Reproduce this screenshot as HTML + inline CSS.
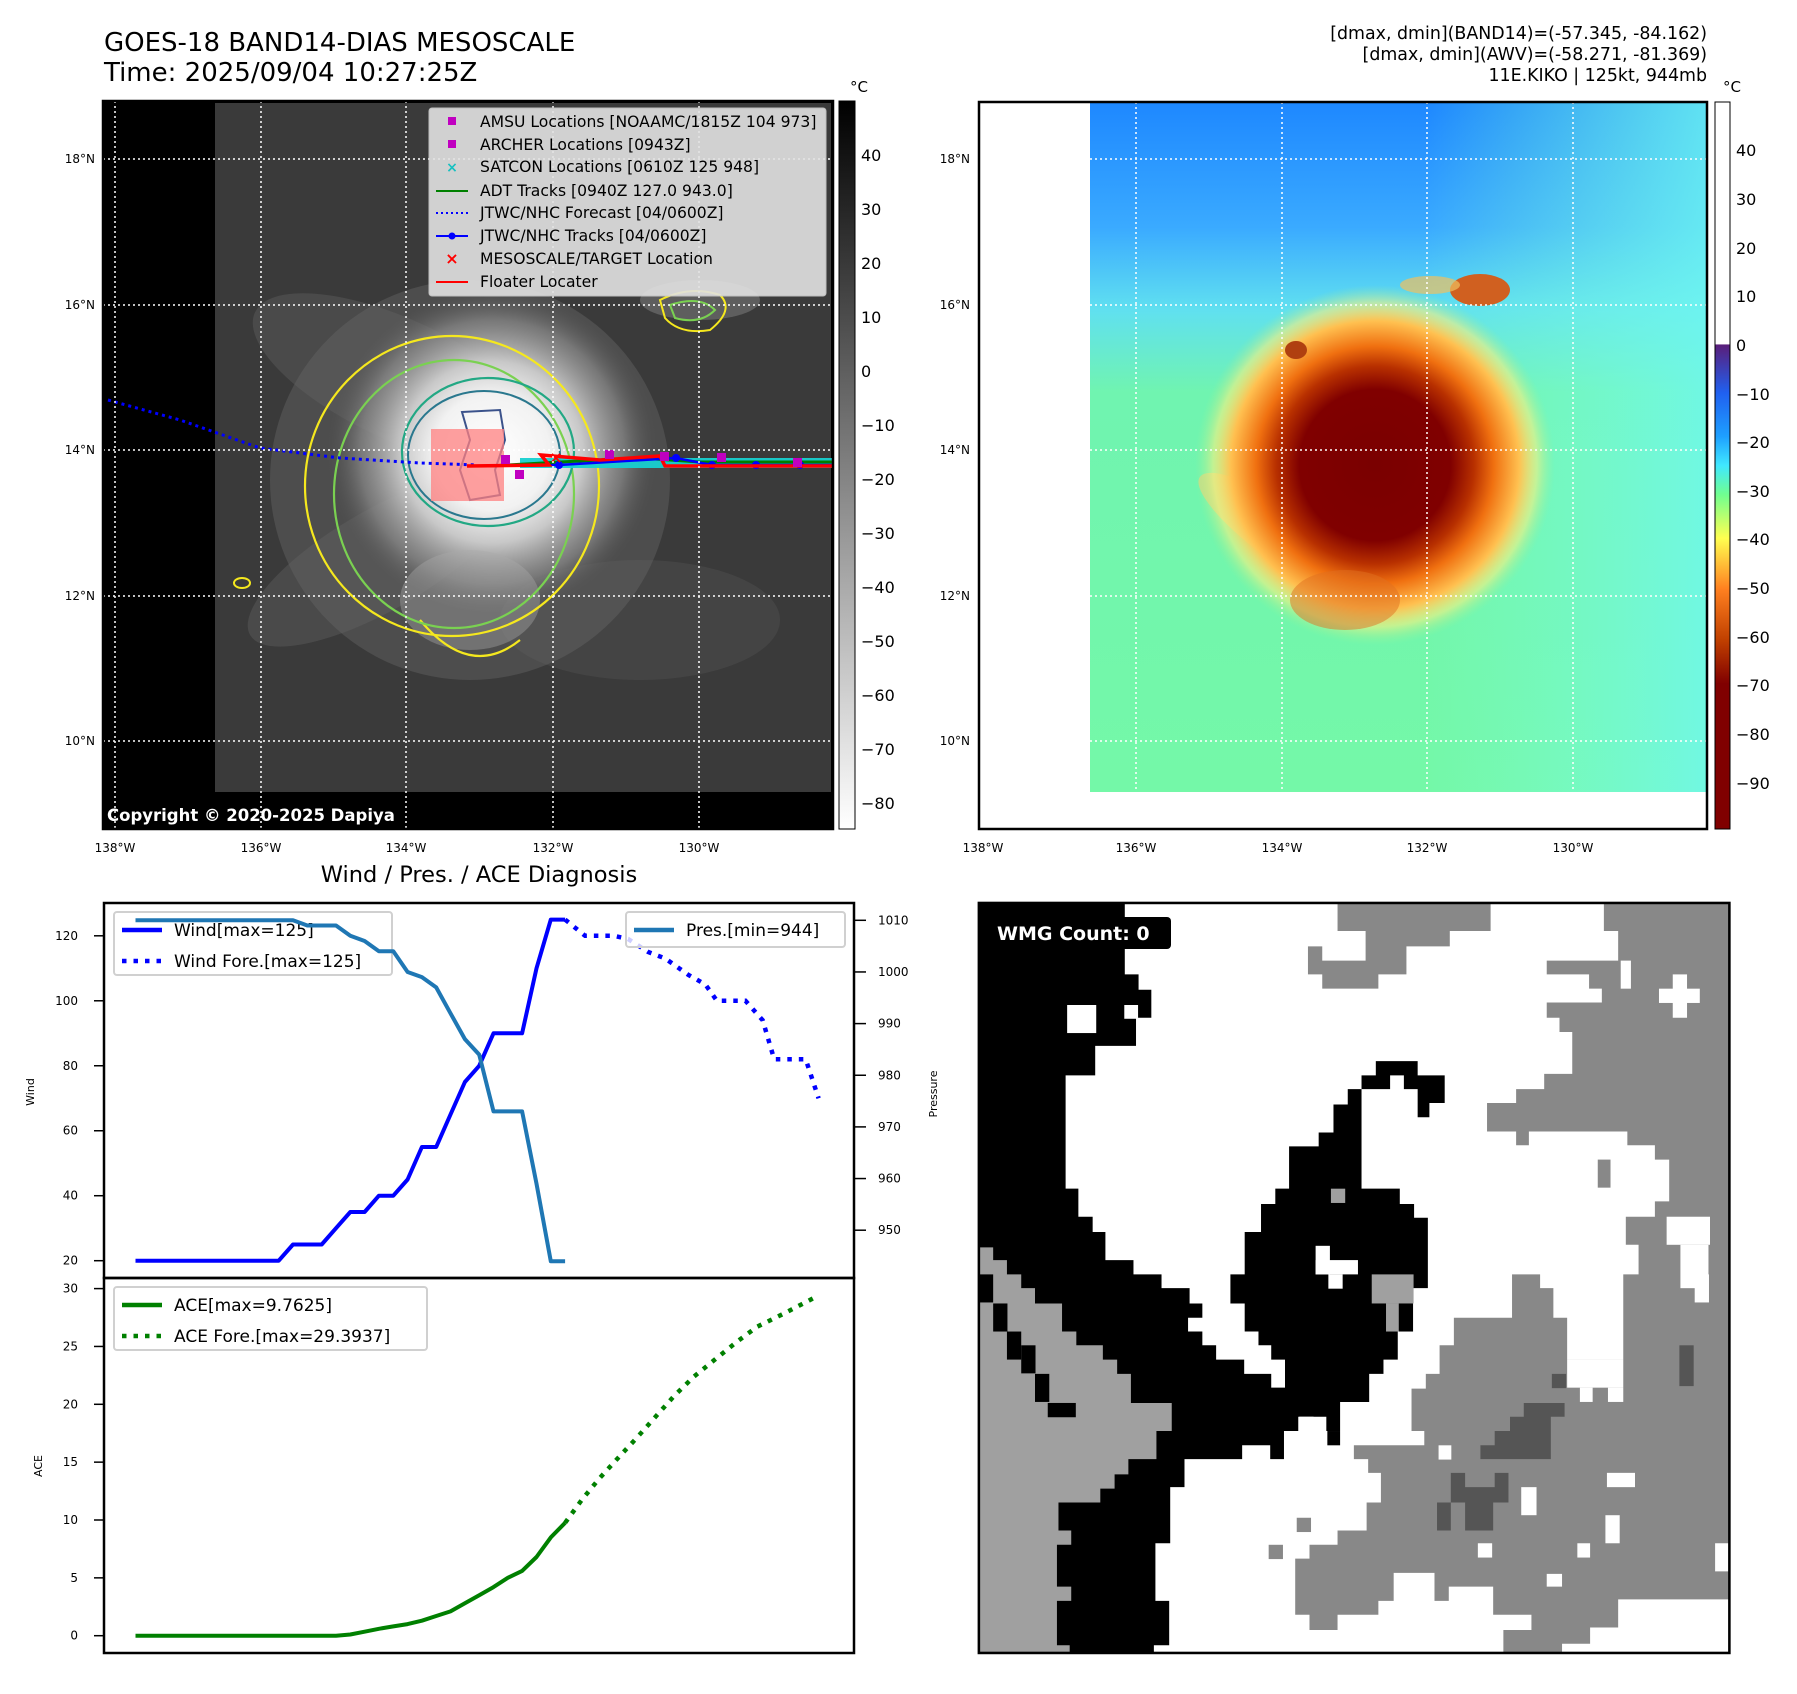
<!DOCTYPE html>
<html><head><meta charset="utf-8">
<style>
html,body{margin:0;padding:0;background:#fff;}
body{width:1797px;height:1690px;position:relative;overflow:hidden;font-family:"DejaVu Sans","Liberation Sans",sans-serif;}
svg text{font-family:"DejaVu Sans","Liberation Sans",sans-serif;}
</style></head>
<body>
<svg id="root" width="1797" height="1690" viewBox="0 0 1797 1690" xmlns="http://www.w3.org/2000/svg">
<defs>
  <radialGradient id="cloudGlow" cx="0.5" cy="0.5" r="0.5">
    <stop offset="0" stop-color="#ffffff"/>
    <stop offset="0.35" stop-color="#f2f2f2"/>
    <stop offset="0.55" stop-color="#c8c8c8"/>
    <stop offset="0.8" stop-color="#8a8a8a" stop-opacity="0.7"/>
    <stop offset="1" stop-color="#555" stop-opacity="0"/>
  </radialGradient>
  <linearGradient id="grayBar" x1="0" y1="0" x2="0" y2="1">
    <stop offset="0" stop-color="#000"/><stop offset="1" stop-color="#fff"/>
  </linearGradient>
  <linearGradient id="awvBg" x1="0" y1="0" x2="0" y2="1">
    <stop offset="0" stop-color="#1e88ff"/>
    <stop offset="0.18" stop-color="#3aaaff"/>
    <stop offset="0.3" stop-color="#60e0f0"/>
    <stop offset="0.42" stop-color="#70f4b0"/>
    <stop offset="1" stop-color="#74f8a8"/>
  </linearGradient>
  <linearGradient id="awvRight" x1="0" y1="0" x2="1" y2="0">
    <stop offset="0" stop-color="#80ffd0" stop-opacity="0"/>
    <stop offset="0.55" stop-color="#80ffd0" stop-opacity="0"/>
    <stop offset="1" stop-color="#70f8f0" stop-opacity="0.8"/>
  </linearGradient>
  <radialGradient id="stormAwv" cx="0.5" cy="0.5" r="0.5">
    <stop offset="0" stop-color="#7a0000"/>
    <stop offset="0.42" stop-color="#800000"/>
    <stop offset="0.55" stop-color="#b83000"/>
    <stop offset="0.66" stop-color="#f07010"/>
    <stop offset="0.8" stop-color="#ffc050"/>
    <stop offset="0.9" stop-color="#f8f080" stop-opacity="0.6"/>
    <stop offset="1" stop-color="#a0f090" stop-opacity="0"/>
  </radialGradient>
  <linearGradient id="awvBar" x1="0" y1="0" x2="0" y2="1">
    <stop offset="0" stop-color="#ffffff"/>
    <stop offset="0.333" stop-color="#ffffff"/>
    <stop offset="0.334" stop-color="#5a1e7a"/>
    <stop offset="0.4" stop-color="#2060f0"/>
    <stop offset="0.46" stop-color="#1ea0ff"/>
    <stop offset="0.5" stop-color="#40e8ff"/>
    <stop offset="0.54" stop-color="#70ff90"/>
    <stop offset="0.6" stop-color="#ffff50"/>
    <stop offset="0.67" stop-color="#ff8020"/>
    <stop offset="0.74" stop-color="#c04000"/>
    <stop offset="0.8" stop-color="#800000"/>
    <stop offset="1" stop-color="#800000"/>
  </linearGradient>
</defs>

<text x="104" y="51" font-size="26" fill="#000">GOES-18 BAND14-DIAS MESOSCALE</text>
<text x="104" y="81" font-size="26" fill="#000">Time: 2025/09/04 10:27:25Z</text>
<text x="1707" y="39" font-size="17.4" text-anchor="end">[dmax, dmin](BAND14)=(-57.345, -84.162)</text>
<text x="1707" y="60" font-size="17.4" text-anchor="end">[dmax, dmin](AWV)=(-58.271, -81.369)</text>
<text x="1707" y="81" font-size="17.4" text-anchor="end">11E.KIKO | 125kt, 944mb</text>

<g>
  <rect x="103" y="101" width="730" height="728" fill="#000"/>
  <rect x="215" y="103" width="616" height="689" fill="#3a3a3a"/>
  <ellipse cx="400" cy="380" rx="160" ry="60" fill="#6a6a6a" opacity="0.35" transform="rotate(25 400 380)"/>
  <ellipse cx="380" cy="560" rx="150" ry="50" fill="#6a6a6a" opacity="0.35" transform="rotate(-30 380 560)"/>
  <ellipse cx="640" cy="620" rx="140" ry="60" fill="#555" opacity="0.4"/>
  <ellipse cx="470" cy="480" rx="200" ry="200" fill="#666" opacity="0.45"/>
  <ellipse cx="492" cy="452" rx="165" ry="165" fill="url(#cloudGlow)"/>
  <ellipse cx="700" cy="300" rx="60" ry="20" fill="#777" opacity="0.6"/>
  <ellipse cx="470" cy="600" rx="70" ry="50" fill="#aaa" opacity="0.4"/>
  <ellipse cx="452" cy="486" rx="147" ry="150" fill="none" stroke="#f5e81e" stroke-width="2.2"/>
  <path d="M420,620 Q470,680 520,640" fill="none" stroke="#f5e81e" stroke-width="2.2"/>
  <ellipse cx="454" cy="494" rx="120" ry="134" fill="none" stroke="#7ad151" stroke-width="2.2"/>
  <ellipse cx="488" cy="452" rx="86" ry="74" fill="none" stroke="#22a884" stroke-width="2.2"/>
  <ellipse cx="484" cy="455" rx="76" ry="64" fill="none" stroke="#2a788e" stroke-width="2"/>
  <path d="M462,412 L500,410 L505,440 L495,470 L500,495 L470,500 L460,470 L470,440 Z" fill="none" stroke="#3b528b" stroke-width="2"/>
  <path d="M660,300 Q690,285 720,295 Q735,310 710,330 Q680,335 665,318 Z" fill="none" stroke="#f5e81e" stroke-width="2"/>
  <path d="M670,305 Q700,295 715,310 Q700,325 675,318 Z" fill="none" stroke="#7ad151" stroke-width="2"/>
  <ellipse cx="242" cy="583" rx="8" ry="5" fill="none" stroke="#f5e81e" stroke-width="2"/>
  <rect x="431" y="429" width="73" height="72" fill="#ff8080" opacity="0.75"/>
  <polyline points="108,400 180,420 260,448 340,458 420,463 476,465" fill="none" stroke="#0000ff" stroke-width="3" stroke-dasharray="3,4"/>
  <rect x="520" y="458" width="313" height="10" fill="#17d0d0" opacity="0.95"/>
  <polyline points="490,466 560,462 640,458 700,462 760,462 833,462" fill="none" stroke="#008000" stroke-width="3"/>
  <polyline points="476,466 559,465 676,458 712,465 756,465 800,465 833,465" fill="none" stroke="#0000ff" stroke-width="2.5"/>
  <g fill="#0000ff"><circle cx="559" cy="465" r="4"/><circle cx="676" cy="458" r="4"/><circle cx="712" cy="465" r="4"/><circle cx="756" cy="465" r="4"/><circle cx="800" cy="465" r="4"/></g>
  <polyline points="467,466 549,465 541,455 600,460 660,456 665,466 833,466" fill="none" stroke="#ff0000" stroke-width="3.5"/>
  <g fill="#c000c0"><rect x="501" y="455" width="9" height="9"/><rect x="515" y="470" width="9" height="9"/><rect x="605" y="450" width="9" height="9"/><rect x="660" y="452" width="9" height="9"/><rect x="717" y="453" width="9" height="9"/><rect x="793" y="458" width="9" height="9"/></g>
  <text x="556" y="463" font-size="16" font-weight="bold" fill="#ff0000" text-anchor="middle">×</text>
  <g stroke="#fff" stroke-width="1.5" stroke-dasharray="2,3">
    <line x1="115" y1="101" x2="115" y2="829"/><line x1="261" y1="101" x2="261" y2="829"/><line x1="406" y1="101" x2="406" y2="829"/><line x1="553" y1="101" x2="553" y2="829"/><line x1="699" y1="101" x2="699" y2="829"/>
    <line x1="103" y1="159" x2="833" y2="159"/><line x1="103" y1="305" x2="833" y2="305"/><line x1="103" y1="450" x2="833" y2="450"/><line x1="103" y1="596" x2="833" y2="596"/><line x1="103" y1="741" x2="833" y2="741"/>
  </g>
  <g>
    <rect x="429" y="108" width="397" height="188" fill="#e2e2e2" opacity="0.9" stroke="#ccc" rx="3"/>
    <g font-size="15.6" fill="#000">
      <rect x="448" y="117" width="8" height="8" fill="#c000c0"/><text x="480" y="127">AMSU Locations [NOAAMC/1815Z 104 973]</text>
      <rect x="448" y="140" width="8" height="8" fill="#c000c0"/><text x="480" y="150">ARCHER Locations [0943Z]</text>
      <text x="452" y="172" fill="#17c0c0" font-size="14" text-anchor="middle" font-weight="bold">×</text><text x="480" y="172">SATCON Locations [0610Z 125 948]</text>
      <line x1="436" y1="191" x2="468" y2="191" stroke="#008000" stroke-width="2"/><text x="480" y="196">ADT Tracks [0940Z 127.0 943.0]</text>
      <line x1="436" y1="213" x2="468" y2="213" stroke="#0000ff" stroke-width="2" stroke-dasharray="2,3"/><text x="480" y="218">JTWC/NHC Forecast [04/0600Z]</text>
      <line x1="436" y1="236" x2="468" y2="236" stroke="#0000ff" stroke-width="2"/><circle cx="452" cy="236" r="3.5" fill="#0000ff"/><text x="480" y="241">JTWC/NHC Tracks [04/0600Z]</text>
      <text x="452" y="264" fill="#ff0000" font-size="16" text-anchor="middle" font-weight="bold">×</text><text x="480" y="264">MESOSCALE/TARGET Location</text>
      <line x1="436" y1="282" x2="468" y2="282" stroke="#ff0000" stroke-width="2"/><text x="480" y="287">Floater Locater</text>
    </g>
  </g>
  <text x="107" y="821" font-size="16.5" font-weight="bold" fill="#fff">Copyright © 2020-2025 Dapiya</text>
  <rect x="103" y="101" width="730" height="728" fill="none" stroke="#000" stroke-width="2.5"/>
</g>
<g font-size="12" fill="#000">
  <text x="95" y="163" text-anchor="end">18°N</text><text x="95" y="309" text-anchor="end">16°N</text><text x="95" y="454" text-anchor="end">14°N</text><text x="95" y="600" text-anchor="end">12°N</text><text x="95" y="745" text-anchor="end">10°N</text>
  <text x="115" y="852" text-anchor="middle">138°W</text><text x="261" y="852" text-anchor="middle">136°W</text><text x="406" y="852" text-anchor="middle">134°W</text><text x="553" y="852" text-anchor="middle">132°W</text><text x="699" y="852" text-anchor="middle">130°W</text>
</g>
<g>
  <rect x="839" y="101" width="16" height="728" fill="url(#grayBar)" stroke="#000" stroke-width="1"/>
  <text x="850" y="92" font-size="15">°C</text>
  <g font-size="16" fill="#000">
    <text x="861" y="161">40</text><text x="861" y="215">30</text><text x="861" y="269">20</text><text x="861" y="323">10</text><text x="861" y="377">0</text>
    <text x="861" y="431">−10</text><text x="861" y="485">−20</text><text x="861" y="539">−30</text><text x="861" y="593">−40</text><text x="861" y="647">−50</text><text x="861" y="701">−60</text><text x="861" y="755">−70</text><text x="861" y="809">−80</text>
  </g>
</g>

<g>
  <rect x="979" y="102" width="728" height="727" fill="#fff"/>
  <rect x="1090" y="103" width="616" height="689" fill="url(#awvBg)"/>
  <rect x="1090" y="103" width="616" height="689" fill="url(#awvRight)"/>
  <ellipse cx="1290" cy="540" rx="110" ry="28" fill="#f8d070" opacity="0.6" transform="rotate(35 1290 540)"/>
  <ellipse cx="1375" cy="465" rx="180" ry="180" fill="url(#stormAwv)"/>
  <ellipse cx="1345" cy="600" rx="55" ry="30" fill="#e07020" opacity="0.5"/>
  <ellipse cx="1480" cy="290" rx="30" ry="16" fill="#d06020"/>
  <ellipse cx="1430" cy="285" rx="30" ry="9" fill="#f0c060" opacity="0.7"/>
  <ellipse cx="1296" cy="350" rx="11" ry="9" fill="#b04010"/>
  <g stroke="#fff" stroke-width="1.5" stroke-dasharray="2,3">
    <line x1="1136" y1="102" x2="1136" y2="829"/><line x1="1282" y1="102" x2="1282" y2="829"/><line x1="1427" y1="102" x2="1427" y2="829"/><line x1="1573" y1="102" x2="1573" y2="829"/>
    <line x1="1090" y1="159" x2="1707" y2="159"/><line x1="1090" y1="305" x2="1707" y2="305"/><line x1="1090" y1="450" x2="1707" y2="450"/><line x1="1090" y1="596" x2="1707" y2="596"/><line x1="1090" y1="741" x2="1707" y2="741"/>
  </g>
  <rect x="979" y="102" width="728" height="727" fill="none" stroke="#000" stroke-width="2.5"/>
</g>
<g font-size="12" fill="#000">
  <text x="970" y="163" text-anchor="end">18°N</text><text x="970" y="309" text-anchor="end">16°N</text><text x="970" y="454" text-anchor="end">14°N</text><text x="970" y="600" text-anchor="end">12°N</text><text x="970" y="745" text-anchor="end">10°N</text>
  <text x="983" y="852" text-anchor="middle">138°W</text><text x="1136" y="852" text-anchor="middle">136°W</text><text x="1282" y="852" text-anchor="middle">134°W</text><text x="1427" y="852" text-anchor="middle">132°W</text><text x="1573" y="852" text-anchor="middle">130°W</text>
</g>
<g>
  <rect x="1715" y="102" width="15" height="727" fill="url(#awvBar)" stroke="#000" stroke-width="1"/>
  <text x="1723" y="92" font-size="15">°C</text>
  <g font-size="16" fill="#000">
    <text x="1736" y="156">40</text><text x="1736" y="205">30</text><text x="1736" y="254">20</text><text x="1736" y="302">10</text><text x="1736" y="351">0</text>
    <text x="1736" y="400">−10</text><text x="1736" y="448">−20</text><text x="1736" y="497">−30</text><text x="1736" y="545">−40</text><text x="1736" y="594">−50</text><text x="1736" y="643">−60</text><text x="1736" y="691">−70</text><text x="1736" y="740">−80</text><text x="1736" y="789">−90</text>
  </g>
</g>

<svg x="960" y="880" width="800" height="800" viewBox="0 0 1568 1568" preserveAspectRatio="none">
  <rect x="37" y="45" width="1471" height="1470" fill="#fff"/>
  <polygon fill="#000" points="37,45 323,45 323,185 350,185 350,215 375,215 375,270 345,270 345,325 265,325 265,383 207,383 207,605 232,605 232,660 260,660 260,690 285,690 285,745 340,745 340,773 395,773 395,800 450,800 450,830 475,830 475,858 447,858 447,885 475,885 475,912 502,912 502,940 557,940 557,968 610,968 610,995 637,995 637,940 610,940 610,912 585,912 585,885 558,885 558,830 530,830 530,773 558,773 558,690 590,690 590,635 618,635 618,605 645,605 645,522 703,522 703,495 732,495 732,440 760,440 760,410 787,410 787,383 815,383 815,355 897,355 897,383 950,383 950,437 920,437 920,465 897,465 897,410 870,410 870,383 843,383 843,410 787,410 787,605 862,605 862,635 890,635 890,662 917,662 917,800 887,800 887,885 858,885 858,940 830,940 830,968 802,968 802,1023 745,1023 745,1080 718,1080 718,1052 663,1052 663,1080 635,1080 635,1135 608,1135 608,1108 553,1108 553,1135 440,1135 440,1190 412,1190 412,1300 383,1300 383,1413 410,1413 410,1500 380,1500 380,1515 37,1515"/>
  <polygon fill="#a0a0a0" points="37,720 65,720 65,745 92,745 92,773 120,773 120,800 147,800 147,830 200,830 200,885 228,885 228,912 280,912 280,940 308,940 308,968 335,968 335,1025 415,1025 415,1080 385,1080 385,1135 330,1135 330,1165 303,1165 303,1193 275,1193 275,1220 193,1220 193,1275 218,1275 218,1303 190,1303 190,1385 218,1385 218,1413 190,1413 190,1500 215,1500 215,1515 37,1515"/>
  <g fill="#000"><rect x="37" y="773" width="28" height="55"/><rect x="65" y="830" width="28" height="55"/><rect x="92" y="885" width="28" height="55"/><rect x="120" y="912" width="28" height="55"/><rect x="147" y="968" width="28" height="55"/><rect x="172" y="1025" width="55" height="28"/><rect x="860" y="830" width="28" height="55"/><rect x="720" y="1080" width="25" height="28"/></g>
  <g fill="#fff"><rect x="210" y="245" width="57" height="55"/><rect x="322" y="245" width="27" height="27"/><rect x="697" y="717" width="28" height="56"/><rect x="697" y="745" width="83" height="28"/><rect x="722" y="773" width="28" height="28"/><rect x="665" y="1052" width="28" height="28"/></g>
  <g fill="#a0a0a0"><rect x="807" y="773" width="82" height="57"/><rect x="835" y="830" width="25" height="55"/><rect x="727" y="605" width="28" height="28"/></g>
  <g fill="#888888">
    <polygon points="740,45 1040,45 1040,100 960,100 960,130 875,130 875,185 820,185 820,213 710,213 710,185 682,185 682,130 710,130 710,158 795,158 795,100 740,100"/>
    <polygon points="1262,45 1508,45 1508,1300 1480,1300 1480,1355 1508,1355 1508,1410 1290,1410 1290,1465 1235,1465 1235,1497 1180,1497 1180,1515 1065,1515 1065,1470 1120,1470 1120,1440 1045,1440 1045,1385 958,1385 958,1413 930,1413 930,1358 850,1358 850,1413 820,1413 820,1440 740,1440 740,1470 685,1470 685,1440 657,1440 657,1330 685,1330 685,1303 740,1303 740,1275 797,1275 797,1220 825,1220 825,1162 800,1162 800,1135 772,1135 772,1108 910,1108 910,1080 885,1080 885,997 913,997 913,968 940,968 940,912 968,912 968,858 1082,858 1082,773 1137,773 1137,800 1163,800 1163,858 1190,858 1190,940 1300,940 1300,773 1330,773 1330,715 1305,715 1305,660 1362,660 1362,630 1390,630 1390,548 1362,548 1362,520 1308,520 1308,493 1115,493 1115,520 1090,520 1090,493 1033,493 1033,437 1090,437 1090,410 1145,410 1145,380 1200,380 1200,298 1175,298 1175,270 1150,270 1150,240 1258,240 1258,213 1233,213 1233,185 1150,185 1150,158 1290,158 1290,100 1262,100"/>
    <rect x="1250" y="548" width="25" height="55"/><rect x="660" y="1250" width="28" height="28"/><rect x="605" y="1303" width="28" height="28"/>
  </g>
  <g fill="#fff">
    <rect x="1295" y="158" width="20" height="55"/><rect x="1370" y="213" width="80" height="28"/><rect x="1397" y="185" width="28" height="85"/>
    <rect x="1385" y="660" width="85" height="55"/><rect x="1412" y="715" width="55" height="85"/><rect x="1440" y="773" width="28" height="55"/>
    <rect x="1190" y="940" width="110" height="55"/><rect x="1215" y="995" width="25" height="28"/><rect x="1270" y="995" width="30" height="28"/>
    <rect x="1268" y="1162" width="55" height="28"/><rect x="1100" y="1190" width="30" height="55"/><rect x="1015" y="1300" width="28" height="28"/><rect x="1210" y="1300" width="25" height="28"/><rect x="1150" y="1360" width="30" height="25"/><rect x="938" y="1108" width="25" height="28"/><rect x="1265" y="1245" width="28" height="55"/>
  </g>
  <g fill="#555555">
    <polygon points="1105,1025 1185,1025 1185,1052 1158,1052 1158,1135 1020,1135 1020,1108 1048,1108 1048,1080 1078,1080 1078,1052 1105,1052"/>
    <polygon points="962,1162 990,1162 990,1190 1048,1190 1048,1162 1075,1162 1075,1220 1045,1220 1045,1275 990,1275 990,1220 962,1220 962,1275 935,1275 935,1220 962,1220"/>
    <rect x="1410" y="912" width="28" height="80"/><rect x="1160" y="968" width="28" height="28"/>
  </g>
  <rect x="37" y="45" width="1471" height="1470" fill="none" stroke="#000" stroke-width="5"/>
</svg>
<g>
  <rect x="988" y="917" width="183" height="32" rx="4" fill="#000"/>
  <text x="997" y="940" font-size="19" font-weight="bold" fill="#fff">WMG Count: 0</text>
</g>

<text x="479" y="882" font-size="22.5" text-anchor="middle">Wind / Pres. / ACE Diagnosis</text>
<g id="chart"></g>
</svg>

<script>
const windVals = [20,20,20,20,20,20,20,20,20,20,20,25,25,25,30,35,35,40,40,45,55,55,65,75,80,90,90,90,110,125,125];
const windForeX = [30,31.4,33.4,34.4,35.8,37,38.6,39.8,40.6,42.6,43.8,44.6,46.8,47.7];
const windForeVals = [125,120,120,119,115,113,108,105,100,100,94,82,82,70];
const presVals = [1010,1010,1010,1010,1010,1010,1010,1010,1010,1010,1010,1010,1009,1009,1009,1007,1006,1004,1004,1000,999,997,992,987,984,973,973,973,959,944,944];
const aceVals = [0,0,0,0,0,0,0,0,0,0,0,0,0,0,0,0.1,0.35,0.6,0.8,1.0,1.3,1.7,2.1,2.8,3.5,4.2,5.0,5.6,6.8,8.5,9.76];
const aceForeX = [30,31.2,32.4,33.8,35,36.3,37.6,39,40.4,42,43.4,45.2,47.7];
const aceForeVals = [9.76,11.8,13.6,15.5,17.1,18.9,20.7,22.4,23.8,25.4,26.7,27.8,29.4];
const windTicks = [20,40,60,80,100,120];
const presTicks = [950,960,970,980,990,1000,1010];
const aceTicks = [0,5,10,15,20,25,30];

const NS = 'http://www.w3.org/2000/svg';
const chart = document.getElementById('chart');
const AX = {l:104, r:854, t:903, mid:1278, b:1653};
const xS = i => 135.5 + i * 14.32;
const yWind = v => 1260.7 + (v - 20) * (935.8 - 1260.7) / 100;
const yPres = v => 1230.2 + (v - 950) * (920.3 - 1230.2) / 60;
const yAce = v => 1635.7 + v * (1288.6 - 1635.7) / 30;

function mk(tag, attrs, parent) {
  const e = document.createElementNS(NS, tag);
  for (const k in attrs) e.setAttribute(k, attrs[k]);
  (parent || chart).appendChild(e);
  return e;
}
function pts(xs, ys, fy) { return xs.map((x, i) => xS(x).toFixed(1) + ',' + fy(ys[i]).toFixed(1)).join(' '); }
const idx = windVals.map((_, i) => i);

let fr = mk('rect', {x:AX.l, y:AX.t, width:AX.r-AX.l, height:AX.mid-AX.t, fill:'none', stroke:'#000', 'stroke-width':2.5});


let fr2 = mk('rect', {x:AX.l, y:AX.mid, width:AX.r-AX.l, height:AX.b-AX.mid, fill:'none', stroke:'#000', 'stroke-width':2.5});



windTicks.forEach(v => {
  const y = yWind(v);
  const tl = mk('line', {x1:AX.l-10, x2:AX.l, y1:y, y2:y, stroke:'#000', 'stroke-width':1.5});
  
  
  const t = mk('text', {x:AX.l-26, y:y+4, 'font-size':12, 'text-anchor':'end'});
  t.textContent = v;
  
  
});
presTicks.forEach(v => {
  const y = yPres(v);
  const tl = mk('line', {x1:AX.r, x2:AX.r+12, y1:y, y2:y, stroke:'#000', 'stroke-width':1.5});
  
  
  const t = mk('text', {x:AX.r+24, y:y+4, 'font-size':12});
  t.textContent = v;
  
  
});
aceTicks.forEach(v => {
  const y = yAce(v);
  const tl = mk('line', {x1:AX.l-10, x2:AX.l, y1:y, y2:y, stroke:'#000', 'stroke-width':1.5});
  
  
  const t = mk('text', {x:AX.l-26, y:y+4, 'font-size':12, 'text-anchor':'end'});
  t.textContent = v;
  
  
});
let yl1 = mk('text', {x:34, y:1092, 'font-size':11, 'text-anchor':'middle', transform:'rotate(-90 34 1092)'});
yl1.textContent = 'Wind';


let yl2 = mk('text', {x:42, y:1466, 'font-size':11, 'text-anchor':'middle', transform:'rotate(-90 42 1466)'});
yl2.textContent = 'ACE';


let yl3 = mk('text', {x:937, y:1094, 'font-size':11, 'text-anchor':'middle', transform:'rotate(-90 937 1094)'});
yl3.textContent = 'Pressure';



let wl = mk('polyline', {points:pts(idx, windVals, yWind), fill:'none', stroke:'#0000ff', 'stroke-width':4, 'stroke-linejoin':'round'});


let wf = mk('polyline', {points:pts(windForeX, windForeVals, yWind), fill:'none', stroke:'#0000ff', 'stroke-width':4.5, 'stroke-dasharray':'4.5,7'});



function legend(name, x, y, w, h, items) {
  const g = mk('g', {});
  
  
  mk('rect', {x:x, y:y, width:w, height:h, rx:3, fill:'#fff', 'fill-opacity':0.8, stroke:'#d0d0d0', 'stroke-width':2}, g);
  items.forEach((it, i) => {
    const cy = y + 18 + i * 31;
    mk('line', {x1:x+8, x2:x+48, y1:cy, y2:cy, stroke:it.c, 'stroke-width':4.5, 'stroke-dasharray':it.d ? '4.5,7' : 'none'}, g);
    const t = mk('text', {x:x+60, y:cy+6, 'font-size':17}, g);
    t.textContent = it.t;
  });
}
legend('wind-legend', 114, 912, 278, 63, [{c:'#0000ff', t:'Wind[max=125]'}, {c:'#0000ff', d:1, t:'Wind Fore.[max=125]'}]);

let pl = mk('polyline', {points:pts(idx, presVals, yPres), fill:'none', stroke:'#1f77b4', 'stroke-width':4, 'stroke-linejoin':'round'});


legend('pressure-legend', 626, 912, 219, 35, [{c:'#1f77b4', t:'Pres.[min=944]'}]);

let al = mk('polyline', {points:pts(idx, aceVals, yAce), fill:'none', stroke:'#008000', 'stroke-width':4, 'stroke-linejoin':'round'});


let af = mk('polyline', {points:pts(aceForeX, aceForeVals, yAce), fill:'none', stroke:'#008000', 'stroke-width':4.5, 'stroke-dasharray':'4.5,7'});


legend('ace-legend', 114, 1287, 313, 63, [{c:'#008000', t:'ACE[max=9.7625]'}, {c:'#008000', d:1, t:'ACE Fore.[max=29.3937]'}]);
</script>
</body></html>
